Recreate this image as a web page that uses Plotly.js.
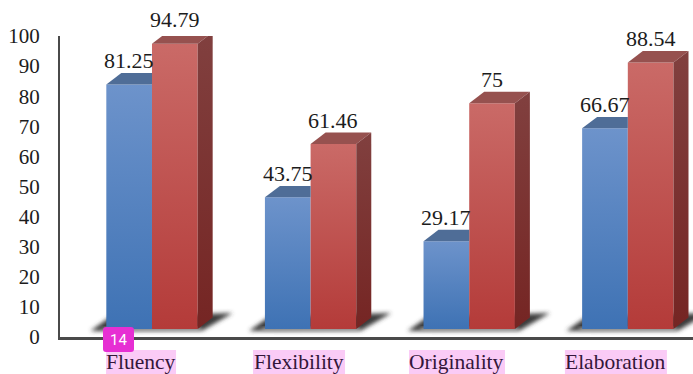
<!DOCTYPE html>
<html>
<head>
<meta charset="utf-8">
<script src="https://cdn.plot.ly/plotly-3.0.1.min.js"></script>
<style>html,body{margin:0;padding:0;background:#fff}#c{width:693px;height:374px}</style>
</head>
<body>
<div id="c"></div>
<script>
const categories = ['Fluency', 'Flexibility', 'Originality', 'Elaboration'];
const blueValues = [81.25, 43.75, 29.17, 66.67];
const redValues = [94.79, 61.46, 75, 88.54];
const blueLabels = ['81.25', '43.75', '29.17', '66.67'];
const redLabels = ['94.79', '61.46', '75', '88.54'];
const yTicks = [0, 10, 20, 30, 40, 50, 60, 70, 80, 90, 100];

const xPos = categories.map((_, i) => i);
const W = 0.288, DX = 0.0946, DY = 3.8, BASE = 2.65, SERIF = '"Liberation Serif", serif';
const bases = categories.map(() => BASE);
const poly = (xs, ys, color, grad) => {
  const t = {type: 'scatter', mode: 'lines', x: xs, y: ys, fill: 'toself', line: {width: 0}, hoverinfo: 'skip', showlegend: false};
  if (grad) { t.fillgradient = {type: 'vertical', colorscale: [[0, grad[1]], [1, grad[0]]]}; }
  else { t.fillcolor = color; }
  return t;
};
const traces = [
  {type: 'bar', name: 'A', x: xPos, y: blueValues, base: bases, width: W, offset: -W, marker: {color: '#5583c0', line: {width: 0}}, showlegend: false},
  {type: 'bar', name: 'B', x: xPos, y: redValues, base: bases, width: W, offset: 0, marker: {color: '#c0524f', line: {width: 0}}, showlegend: false}
];
xPos.forEach(i => {
  const tb = BASE + blueValues[i], tr = BASE + redValues[i];
  traces.push(poly([i - W, i - W + DX, i, i], [tb, tb + DY, tb + DY, tb], '#4f6d97'));
  traces.push(poly([i, i + DX, i + W + DX, i + W], [tr, tr + DY, tr + DY, tr], '#96514f'));
  traces.push(poly([i + W, i + W + DX, i + W + DX, i + W], [tr, tr + DY, BASE + DY, BASE], null, ['#81403f', '#752523']));
});

const shadows = xPos.map(i => ({
  type: 'path', layer: 'below', xref: 'x', yref: 'y', line: {width: 0}, fillcolor: '#3a3a3a',
  path: `M ${i - W - 0.1} 2 L ${i - W + 0.02} 6.5 L ${i + W + 0.22} 8 L ${i + W + 0.03} 2.2 Z`
}));
const floors = xPos.map(i => ({
  type: 'rect', layer: 'below', xref: 'x', yref: 'y', line: {width: 0}, fillcolor: '#bdbdbd',
  x0: i - W - 0.02, x1: i + W + 0.02, y0: 2, y1: 3
}));
const labelWidths = [70, 92, 96, 102];
const labelCenters = [-0.069, 0.927, 1.923, 2.925];
const PX = 1 / 158.6;
const highlights = categories.map((c, i) => ({
  type: 'rect', xref: 'x', yref: 'paper', ysizemode: 'pixel', yanchor: 0, line: {width: 0}, fillcolor: '#facbf6',
  x0: labelCenters[i] - labelWidths[i] * PX / 2, x1: labelCenters[i] + labelWidths[i] * PX / 2, y0: -13, y1: -37
}));
const badge = {
  type: 'path', xref: 'paper', yref: 'paper', xsizemode: 'pixel', ysizemode: 'pixel', xanchor: 0, yanchor: 0,
  line: {width: 0}, fillcolor: '#e62fd3',
  path: 'M 43 7 Q 43 10 46 10 L 71 10 Q 74 10 74 7 L 74 -12 Q 74 -15 71 -15 L 46 -15 Q 43 -15 43 -12 Z'
};
const annotations = categories.map((c, i) => ({
  text: c, xref: 'x', yref: 'paper', x: labelCenters[i], y: 0, yanchor: 'middle', xanchor: 'center', yshift: -24.5, borderpad: 0,
  showarrow: false, font: {family: SERIF, size: 21.5, color: '#33163a'}
}));
const dataLabel = (v, t, x) => ({
  text: t, xref: 'x', yref: 'paper', x: x, y: (BASE + v + DY) / 100, xanchor: 'center', yanchor: 'bottom', yshift: -2,
  showarrow: false, font: {family: SERIF, size: 22, color: '#1c1c1c'}
});
xPos.forEach(i => {
  annotations.push(dataLabel(blueValues[i], blueLabels[i], i - W / 2));
  annotations.push(dataLabel(redValues[i], redLabels[i], i + W / 2));
});
annotations.push({
  text: '14', xref: 'paper', yref: 'paper', x: 0, y: 0, xshift: 58.5, yshift: -3, xanchor: 'center', yanchor: 'middle',
  showarrow: false, font: {family: 'Roboto, sans-serif', size: 15, color: '#ffffff'}
});

const layout = {
  width: 693, height: 374, margin: {l: 60, r: 0, t: 36, b: 37}, paper_bgcolor: '#fff', plot_bgcolor: '#fff',
  barmode: 'overlay', showlegend: false, hovermode: false,
  xaxis: {type: 'linear', range: [-0.58, 3.411], showgrid: false, zeroline: false, showticklabels: false, ticks: '', showline: true, linecolor: '#4a4a4a', linewidth: 2.5},
  yaxis: {range: [0, 100], tickvals: yTicks, ticktext: yTicks.map(String), showgrid: false, zeroline: false, ticks: '', ticklabelstandoff: 14, showline: true, linecolor: '#4a4a4a', linewidth: 2, tickfont: {family: SERIF, size: 21, color: '#1c1c1c'}},
  shapes: shadows.concat(floors, highlights, [badge]),
  annotations: annotations
};
Plotly.newPlot('c', traces, layout, {displayModeBar: false, staticPlot: true}).then(gd => {
  const NS = 'http://www.w3.org/2000/svg';
  const svg = gd.querySelector('svg.main-svg');
  const defs = svg.querySelector('defs') || svg.appendChild(document.createElementNS(NS, 'defs'));
  const addGrad = (id, top, bottom) => {
    const g = document.createElementNS(NS, 'linearGradient');
    g.setAttribute('id', id); g.setAttribute('x1', '0'); g.setAttribute('x2', '0'); g.setAttribute('y1', '0'); g.setAttribute('y2', '1');
    [[0, top], [1, bottom]].forEach(([o, c]) => {
      const s = document.createElementNS(NS, 'stop');
      s.setAttribute('offset', o); s.setAttribute('stop-color', c); g.appendChild(s);
    });
    defs.appendChild(g);
  };
  addGrad('gBlue', '#6d93cb', '#3e72b4');
  addGrad('gRed', '#ca6a67', '#b43b39');
  const f = document.createElementNS(NS, 'filter');
  f.setAttribute('id', 'soft'); f.setAttribute('x', '-30%'); f.setAttribute('y', '-60%'); f.setAttribute('width', '160%'); f.setAttribute('height', '220%');
  const b = document.createElementNS(NS, 'feGaussianBlur'); b.setAttribute('stdDeviation', '2.2'); f.appendChild(b);
  defs.appendChild(f);
  gd.querySelectorAll('.barlayer .trace').forEach((t, i) => {
    t.querySelectorAll('.point path').forEach(p => p.style.setProperty('fill', i === 0 ? 'url(#gBlue)' : 'url(#gRed)'));
  });
  gd.querySelectorAll('.shapelayer path').forEach(p => {
    const fill = p.style.fill.replace(/\s/g, '');
    if (fill === 'rgb(58,58,58)' || fill === 'rgb(189,189,189)') p.setAttribute('filter', 'url(#soft)');
  });
});
</script>
</body>
</html>
